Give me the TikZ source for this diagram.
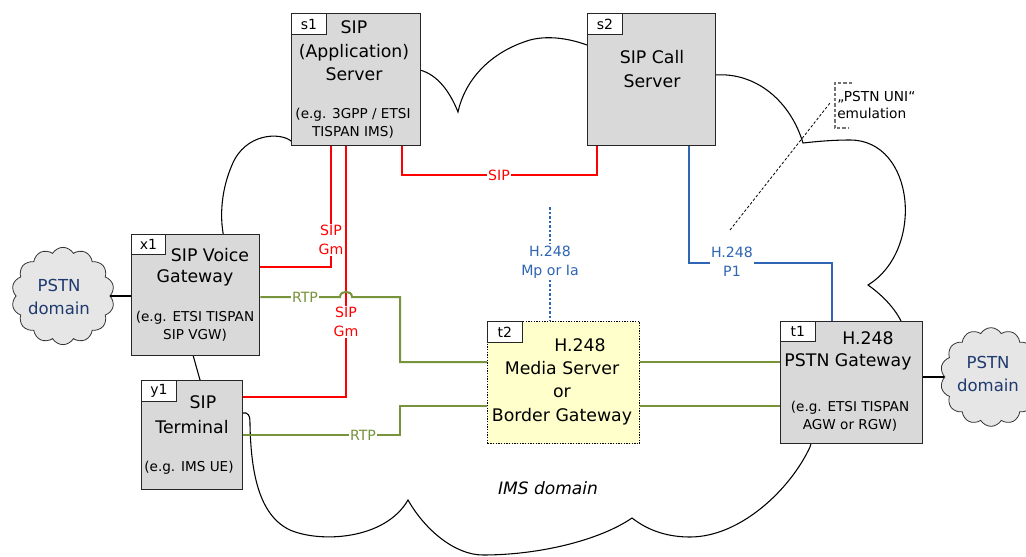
\documentclass[tikz,border=0pt]{standalone}
\usepackage{fontspec}
\setmainfont{DejaVu Sans}
\usetikzlibrary{shapes.symbols}
\definecolor{boxgray}{HTML}{D9D9D9}
\definecolor{sipred}{HTML}{FF0000}
\definecolor{rtpgreen}{HTML}{77933C}
\definecolor{hblue}{HTML}{2E65B4}
\definecolor{navy}{HTML}{1F3A6E}
\definecolor{lightyellow}{HTML}{FFFFCC}
\definecolor{cloudfill}{HTML}{E6E6E6}
\newcommand\ttlf{\fontsize{13}{17.5}\selectfont}
\newcommand\smlf{\fontsize{10.2}{13.3}\selectfont}
\newcommand\tagf{\fontsize{10.5}{12}\selectfont}
\newcommand\lblf{\fontsize{10.6}{14.5}\selectfont}
\newcommand\pstnf{\fontsize{12.4}{17}\selectfont}
\newcommand\unif{\fontsize{10.3}{12.5}\selectfont}
\newcommand\imsf{\fontsize{12.8}{15}\selectfont}
\begin{document}
\begin{tikzpicture}[x=0.75pt,y=-0.75pt,
 box/.style={draw=black!85, line width=1pt, fill=boxgray, anchor=north west, inner sep=0pt},
 tagbox/.style={draw=black!85, line width=0.8pt, fill=white, anchor=north west, minimum width=26pt, minimum height=16pt, inner sep=0pt, font=\tagf},
 ttl/.style={align=center, inner sep=0pt, font=\ttlf},
 sub/.style={align=center, inner sep=0pt, font=\smlf},
 sipc/.style={draw=sipred, line width=1.5pt},
 rtpc/.style={draw=rtpgreen, line width=1.5pt},
 h248c/.style={draw=hblue, line width=1.5pt},
 lab/.style={fill=white, inner sep=1pt, align=center, font=\lblf},
 pstn/.style={cloud, cloud puffs=14, cloud puff arc=120, cloud ignores aspect, draw=black!80, line width=0.6pt, fill=cloudfill, inner sep=0pt},
 pstntext/.style={text=navy, align=center, font=\pstnf, inner sep=0pt}
]
\useasboundingbox (0,0) rectangle (1026,557);

% IMS cloud
\draw[black, line width=0.8pt]
 (291,141) .. controls (280,132) and (245,133) .. (232,165)
 .. controls (222,188) and (219,215) .. (224,238)
 -- (193,355) -- (200,380) -- (242,413) -- (246,413)
 .. controls (250,415) and (250,418) .. (250,425)
 .. controls (251,470) and (258,515) .. (290,530)
 .. controls (320,543) and (385,540) .. (408,500)
 .. controls (425,530) and (455,555) .. (483,555)
 .. controls (540,555) and (600,540) .. (632,518)
 .. controls (650,532) and (670,537) .. (690,537)
 .. controls (740,537) and (790,490) .. (810,447)
 -- (815,430) -- (901,321)
 .. controls (893,305) and (878,292) .. (868,285)
 .. controls (925,250) and (915,140) .. (850,140)
 .. controls (830,140) and (812,142) .. (803,143)
 .. controls (790,100) and (755,72) .. (715,75)
 -- (587,45)
 .. controls (565,37) and (545,36) .. (530,40)
 .. controls (490,52) and (465,80) .. (458,112)
 .. controls (450,92) and (438,75) .. (420,70)
 -- cycle;

% PSTN clouds
\node[pstn, minimum width=77pt, minimum height=73pt] (pl) at (63,296) {};
\node[pstntext] (pltext) at (59,297) {PSTN\\domain};
\node[pstn, minimum width=76pt, minimum height=74pt] (pr) at (991,377) {};
\node[pstntext] (prtext) at (988,374) {PSTN\\domain};

% boxes
\node[box, minimum width=96.75pt, minimum height=99pt] (s1) at (291,13) {};
\node[tagbox] (s1tag) at (291,13) {s1};
\node[ttl] (s1t) at (354,51) {SIP\\(Application)\\Server};
\node[sub] (s1s) at (353,123) {(e.g. 3GPP / ETSI\\TISPAN IMS)};

\node[box, minimum width=96pt, minimum height=99pt] (s2) at (587,13) {};
\node[tagbox] (s2tag) at (587,13) {s2};
\node[ttl] (s2t) at (652,69) {SIP Call\\Server};

\node[box, minimum width=96pt, minimum height=90.75pt] (x1) at (131,234) {};
\node[tagbox, minimum width=25.5pt, minimum height=15pt] (x1tag) at (131,234) {x1};
\node[ttl] (x1ta) at (210,255) {SIP Voice};
\node[ttl] (x1tb) at (195,278) {Gateway};
\node[sub] (x1s) at (195,326) {(e.g. ETSI TISPAN\\SIP VGW)};

\node[box, minimum width=75.75pt, minimum height=81.75pt] (y1) at (141,380) {};
\node[tagbox] (y1tag) at (141,380) {y1};
\node[ttl] (y1ta) at (203,402) {SIP};
\node[ttl] (y1tb) at (192,427) {Terminal};
\node[sub] (y1s) at (189,468) {(e.g. IMS UE)};

\node[box, fill=lightyellow, draw=black, line width=0.9pt, dash pattern=on 1pt off 1pt, minimum width=114pt, minimum height=91.5pt] (t2) at (487,321) {};
\node[tagbox] (t2tag) at (487,321) {t2};
\node[ttl] (t2ta) at (580,345) {H.248};
\node[ttl] (t2tb) at (562,393) {Media Server\\or\\Border Gateway};

\node[box, minimum width=106.5pt, minimum height=91.5pt] (t1) at (780,321) {};
\node[tagbox, minimum width=26pt, minimum height=15pt] (t1tag) at (780,321) {t1};
\node[ttl] (t1ta) at (868,338) {H.248};
\node[ttl] (t1tb) at (848,362) {PSTN Gateway};
\node[sub] (t1s) at (850,416) {(e.g. ETSI TISPAN\\AGW or RGW)};

% PSTN links
\draw[black, line width=1.4pt] (pl.east) -- (x1.west |- pl.east);
\draw[black, line width=1.4pt] (t1.east |- pr.west) -- (pr.west);

% SIP s1-s2
\draw[sipc] (s1.south -| 402,0) -- (402,175) -- (597,175) -- (s2.south -| 597,0);
\node[lab, text=sipred] (siplab) at (499,175) {SIP};
% Gm
\draw[sipc] (s1.south -| 331,0) -- (331,267) -- (x1.east |- 0,267);
\node[lab, text=sipred] (gm1lab) at (331,240) {SIP\\Gm};
\draw[sipc] (s1.south -| 346,0) -- (346,397) -- (y1.east |- 0,397);
% RTP
\draw[rtpc] (x1.east |- 0,297) -- (340,297) .. controls (340,290) and (352,290) .. (352,297) -- (400,297) -- (400,362) -- (t2.west |- 0,362);
\node[lab, text=rtpgreen] (rtp1lab) at (305,297) {RTP};
\node[lab, text=sipred] (gm2lab) at (346,322) {SIP\\Gm};
\draw[rtpc] (y1.east |- 0,435) -- (400,435) -- (400,406) -- (t2.west |- 0,406);
\node[lab, text=rtpgreen] (rtp2lab) at (363,435) {RTP};
\draw[rtpc] (t2.east |- 0,362) -- (t1.west |- 0,362);
\draw[rtpc] (t2.east |- 0,406) -- (t1.west |- 0,406);

% H.248
\coordinate (mptop) at (550,207);
\draw[h248c, line width=1.6pt, dash pattern=on 2pt off 1.4pt] (mptop) -- (t2.north -| mptop);
\node[lab, text=hblue] (mplab) at (550,262) {H.248\\Mp or Ia};
\draw[h248c] (s2.south -| 689,0) -- (689,263) -- (832,263) -- (t1.north -| 832,0);
\node[lab, text=hblue] (p1lab) at (732,262) {H.248\\P1};

% PSTN UNI emulation
\coordinate (unifoot) at (730,230);
\coordinate (unitip) at (830,103);
\draw[black, line width=0.6pt, dash pattern=on 2pt off 1.5pt] (unifoot) -- (unitip);
\draw[black!55, line width=0.8pt, dash pattern=on 2.5pt off 1.5pt] (852,83) -- (835,83) -- (835,128) -- (849,128);
\node[anchor=west, align=left, inner sep=0pt, font=\unif] (uni) at (837,105) {„PSTN UNI“\\emulation};

\node[inner sep=0pt, font=\imsf\itshape] (ims) at (548,488) {IMS domain};
\end{tikzpicture}
\end{document}
